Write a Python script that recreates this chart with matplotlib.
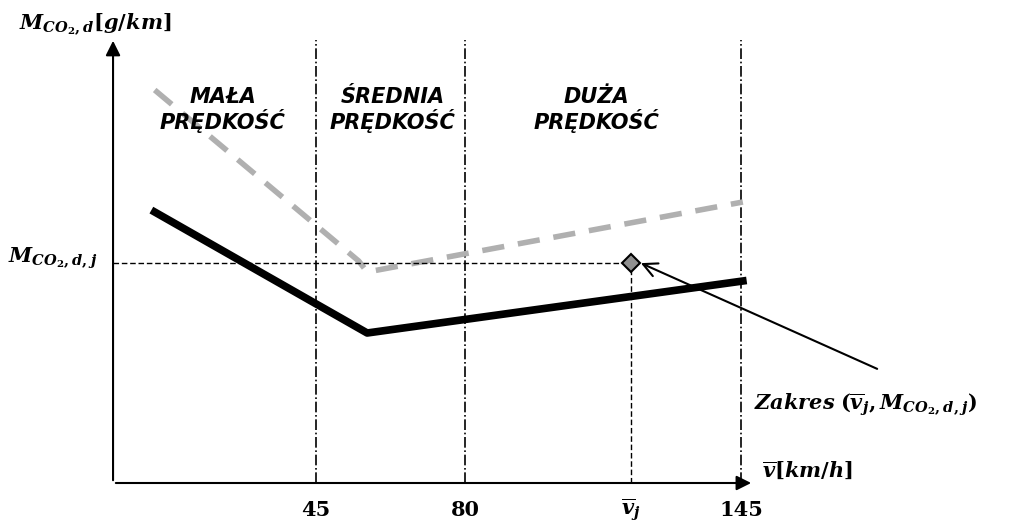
import matplotlib
matplotlib.use('Agg')
import matplotlib.pyplot as plt

plt.rcParams['mathtext.fontset'] = 'custom'
plt.rcParams['mathtext.it'] = 'DejaVu Serif:italic:bold'
plt.rcParams['mathtext.rm'] = 'DejaVu Serif:bold'
plt.rcParams['mathtext.bf'] = 'DejaVu Serif:bold'

# dane (jednostki umowne na osi y)
black_v = [7, 57, 145.4]
black_m = [27.1, 15.0, 20.2]
gray_v = [7, 55, 57, 145.4]
gray_m = [39.3, 22.2, 21.1, 28.1]
bounds = [45, 80, 145]
tick_labels = ['45', '80', '145']
v_j = 119
m_j = 22.0
zones = ['MAŁA\nPRĘDKOŚĆ', 'ŚREDNIA\nPRĘDKOŚĆ', 'DUŻA\nPRĘDKOŚĆ']
zone_x = [23, 63, 111]

fig = plt.figure(figsize=(10.14, 5.27), dpi=100)
ax = fig.add_axes([0, 0, 1, 1])
ax.set_xlim(-29.4, 209.2)
ax.set_ylim(-4.4, 48.3)
ax.axis('off')

x0, y0 = -2.8, 0
# osie
ax.annotate('', xy=(x0, 44.5), xytext=(x0, y0),
            arrowprops=dict(arrowstyle='-|>', lw=1.5, color='black', mutation_scale=22))
ax.annotate('', xy=(148, y0), xytext=(x0, y0),
            arrowprops=dict(arrowstyle='-|>', lw=1.5, color='black', mutation_scale=22))

for b, lab in zip(bounds, tick_labels):
    ax.plot([b, b], [y0, 44.3], color='black', lw=1.2, ls='-.')
    ax.text(b, -2.7, lab, ha='center', va='center', fontsize=15,
            family='DejaVu Serif', weight='bold')

ax.plot(gray_v, gray_m, color='#b0b0b0', lw=4, ls=(0, (4, 2.5)))
ax.plot(black_v, black_m, color='black', lw=5.5)

ax.plot([x0, v_j], [m_j, m_j], color='black', lw=1, ls=(0, (4, 2)))
ax.plot([v_j, v_j], [y0, m_j], color='black', lw=1, ls=(0, (4, 2)))
ax.plot([v_j], [m_j], marker='D', ms=9, mfc='#909090', mec='black', mew=1.5)
ax.annotate('', xy=(v_j + 1.8, m_j + 0.1), xytext=(177.6, 11.3),
            arrowprops=dict(arrowstyle='->', lw=1.5, color='black', mutation_scale=25))

for x, z in zip(zone_x, zones):
    ax.text(x, 37.3, z, ha='center', va='center', fontsize=15, style='italic',
            weight='bold', family='DejaVu Sans', linespacing=1.1)

ax.text(-25, 45.8, r'$M_{CO_2,d}[g/km]$', fontsize=15, va='center', ha='left')
ax.text(-27.5, 22.5, r'$M_{CO_2,d,j}$', fontsize=15, va='center', ha='left')
ax.text(150, 1.3, r'$\overline{v}[km/h]$', fontsize=15, va='center', ha='left')
ax.text(v_j, -2.7, r'$\overline{v}_j$', fontsize=15, va='center', ha='center')
ax.text(148, 7.8, r'$Zakres\;(\overline{v}_j,M_{CO_2,d,j})$', fontsize=15,
        va='center', ha='left')

fig.savefig('out.png', dpi=100)
